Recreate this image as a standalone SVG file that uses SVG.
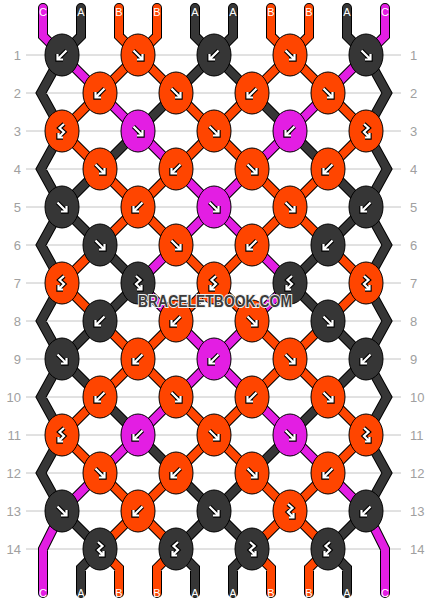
<svg xmlns="http://www.w3.org/2000/svg" xmlns:xlink="http://www.w3.org/1999/xlink" width="430" height="604" viewBox="0 0 430 604">
<style>
.grid line{stroke:#c4c4c4;stroke-width:1}
.num{font-family:"Liberation Sans",Arial,sans-serif;font-size:13px;fill:#a0a0a0}
.lab{font-family:"Liberation Sans",Arial,sans-serif;font-size:11px;fill:#fff;text-anchor:middle}
.ol{fill:none;stroke:#000;stroke-width:10;stroke-linecap:round;stroke-linejoin:miter}
.t{fill:none;stroke-width:8;stroke-linecap:round;stroke-linejoin:miter}
.tA{stroke:#363636}.tB{stroke:#ff4500}.tC{stroke:#e31ee3}
ellipse{stroke:#000;stroke-width:1}
.kA{fill:#363636}.kB{fill:#ff4500}.kC{fill:#e31ee3}
.ao{fill:none;stroke:#000;stroke-width:4.4;stroke-linejoin:miter}
.ai{fill:none;stroke:#fff;stroke-width:2.2;stroke-linejoin:miter}
.wm{font-family:"Liberation Sans",Arial,sans-serif;font-weight:bold;font-size:16px;fill:#3c3c3c;stroke:#f0f0f0;stroke-width:2;paint-order:stroke;text-anchor:middle}
</style>
<defs>
<path id="pf" d="M-4.5 -4.5L4 4M-1 4.5H4.5V-1"/>
<path id="pb" d="M4.5 -4.5L-4 4M1 4.5H-4.5V-1"/>
<path id="pfb" d="M-2 -7L2.5 -3L-2 1L3.5 6.5M-1 6.5H3.5V2"/>
<path id="pbf" d="M2 -7L-2.5 -3L2 1L-3.5 6.5M1 6.5H-3.5V2"/>
<g id="f"><use href="#pf" class="ao"/><use href="#pf" class="ai"/></g>
<g id="b"><use href="#pb" class="ao"/><use href="#pb" class="ai"/></g>
<g id="fb"><use href="#pfb" class="ao"/><use href="#pfb" class="ai"/></g>
<g id="bf"><use href="#pbf" class="ao"/><use href="#pbf" class="ai"/></g>
<path id="sA" d="M214 55L176 93M214 55L252 93M176 93L138 131M252 93L290 131M138 131L100 169M290 131L328 169M100 169L62 207M328 169L366 207M62 207L100 245M366 207L328 245M100 245L138 283M328 245L290 283M138 283L100 321M290 283L328 321M100 321L62 359M328 321L366 359M62 359L100 397M366 359L328 397M100 397L138 435M328 397L290 435M138 435L176 473M290 435L252 473M176 473L214 511M252 473L214 511M62 511L100 549M214 511L176 549M214 511L252 549M366 511L328 549M62 55L41 93L62 131M62 131L41 169L62 207M62 207L41 245L62 283M62 283L41 321L62 359M62 359L41 397L62 435M62 435L41 473L62 511M366 55L387 93L366 131M366 131L387 169L366 207M366 207L387 245L366 283M366 283L387 321L366 359M366 359L387 397L366 435M366 435L387 473L366 511M81 8L81 36L62 55M195 8L195 36L214 55M233 8L233 36L214 55M347 8L347 36L366 55M100 549L81 568L81 593M176 549L195 568L195 593M252 549L233 568L233 593M328 549L347 568L347 593"/>
<path id="sB" d="M138 55L100 93M138 55L176 93M290 55L252 93M290 55L328 93M100 93L62 131M176 93L214 131M252 93L214 131M328 93L366 131M62 131L100 169M214 131L176 169M214 131L252 169M366 131L328 169M100 169L138 207M176 169L138 207M252 169L290 207M328 169L290 207M138 207L100 245M138 207L176 245M290 207L252 245M290 207L328 245M100 245L62 283M176 245L214 283M252 245L214 283M328 245L366 283M62 283L100 321M214 283L176 321M214 283L252 321M366 283L328 321M100 321L138 359M176 321L138 359M252 321L290 359M328 321L290 359M138 359L100 397M138 359L176 397M290 359L252 397M290 359L328 397M100 397L62 435M176 397L214 435M252 397L214 435M328 397L366 435M62 435L100 473M214 435L176 473M214 435L252 473M366 435L328 473M100 473L138 511M176 473L138 511M252 473L290 511M328 473L290 511M138 511L100 549M138 511L176 549M290 511L252 549M290 511L328 549M119 8L119 36L138 55M157 8L157 36L138 55M271 8L271 36L290 55M309 8L309 36L290 55M100 549L119 568L119 593M176 549L157 568L157 593M252 549L271 568L271 593M328 549L309 568L309 593"/>
<path id="sC" d="M62 55L100 93M366 55L328 93M100 93L138 131M328 93L290 131M138 131L176 169M290 131L252 169M176 169L214 207M252 169L214 207M214 207L176 245M214 207L252 245M176 245L138 283M252 245L290 283M138 283L176 321M290 283L252 321M176 321L214 359M252 321L214 359M214 359L176 397M214 359L252 397M176 397L138 435M252 397L290 435M138 435L100 473M290 435L328 473M100 473L62 511M328 473L366 511M43 8L43 36L62 55M385 8L385 36L366 55M62 511L43 549L43 593M366 511L385 549L385 593"/>
</defs>
<rect width="430" height="604" fill="#fff"/>
<g class="grid">
<line x1="26" y1="55" x2="401" y2="55"/><line x1="26" y1="93" x2="401" y2="93"/><line x1="26" y1="131" x2="401" y2="131"/><line x1="26" y1="169" x2="401" y2="169"/><line x1="26" y1="207" x2="401" y2="207"/><line x1="26" y1="245" x2="401" y2="245"/><line x1="26" y1="283" x2="401" y2="283"/><line x1="26" y1="321" x2="401" y2="321"/><line x1="26" y1="359" x2="401" y2="359"/><line x1="26" y1="397" x2="401" y2="397"/><line x1="26" y1="435" x2="401" y2="435"/><line x1="26" y1="473" x2="401" y2="473"/><line x1="26" y1="511" x2="401" y2="511"/><line x1="26" y1="549" x2="401" y2="549"/>
</g>
<g class="num" text-anchor="end">
<text x="21" y="60">1</text><text x="21" y="98">2</text><text x="21" y="136">3</text><text x="21" y="174">4</text><text x="21" y="212">5</text><text x="21" y="250">6</text><text x="21" y="288">7</text><text x="21" y="326">8</text><text x="21" y="364">9</text><text x="21" y="402">10</text><text x="21" y="440">11</text><text x="21" y="478">12</text><text x="21" y="516">13</text><text x="21" y="554">14</text>
</g>
<g class="num" text-anchor="start">
<text x="410" y="60">1</text><text x="410" y="98">2</text><text x="410" y="136">3</text><text x="410" y="174">4</text><text x="410" y="212">5</text><text x="410" y="250">6</text><text x="410" y="288">7</text><text x="410" y="326">8</text><text x="410" y="364">9</text><text x="410" y="402">10</text><text x="410" y="440">11</text><text x="410" y="478">12</text><text x="410" y="516">13</text><text x="410" y="554">14</text>
</g>
<g id="connectors">
<use href="#sA" class="ol"/><use href="#sB" class="ol"/><use href="#sC" class="ol"/>
<use href="#sA" class="t tA"/><use href="#sB" class="t tB"/><use href="#sC" class="t tC"/>
</g>
<g class="lab">
<text x="43" y="16">C</text><text x="81" y="16">A</text><text x="119" y="16">B</text><text x="157" y="16">B</text><text x="195" y="16">A</text><text x="233" y="16">A</text><text x="271" y="16">B</text><text x="309" y="16">B</text><text x="347" y="16">A</text><text x="385" y="16">C</text>
<text x="43" y="597">C</text><text x="81" y="597">A</text><text x="119" y="597">B</text><text x="157" y="597">B</text><text x="195" y="597">A</text><text x="233" y="597">A</text><text x="271" y="597">B</text><text x="309" y="597">B</text><text x="347" y="597">A</text><text x="385" y="597">C</text>
</g>
<g id="knots">
<g id="k1-1" transform="translate(62 55)"><ellipse class="kA" rx="17" ry="21"/><use href="#b"/></g>
<g id="k1-2" transform="translate(138 55)"><ellipse class="kB" rx="17" ry="21"/><use href="#f"/></g>
<g id="k1-3" transform="translate(214 55)"><ellipse class="kA" rx="17" ry="21"/><use href="#b"/></g>
<g id="k1-4" transform="translate(290 55)"><ellipse class="kB" rx="17" ry="21"/><use href="#f"/></g>
<g id="k1-5" transform="translate(366 55)"><ellipse class="kA" rx="17" ry="21"/><use href="#f"/></g>
<g id="k2-1" transform="translate(100 93)"><ellipse class="kB" rx="17" ry="21"/><use href="#b"/></g>
<g id="k2-2" transform="translate(176 93)"><ellipse class="kB" rx="17" ry="21"/><use href="#f"/></g>
<g id="k2-3" transform="translate(252 93)"><ellipse class="kB" rx="17" ry="21"/><use href="#b"/></g>
<g id="k2-4" transform="translate(328 93)"><ellipse class="kB" rx="17" ry="21"/><use href="#f"/></g>
<g id="k3-1" transform="translate(62 131)"><ellipse class="kB" rx="17" ry="21"/><use href="#bf"/></g>
<g id="k3-2" transform="translate(138 131)"><ellipse class="kC" rx="17" ry="21"/><use href="#f"/></g>
<g id="k3-3" transform="translate(214 131)"><ellipse class="kB" rx="17" ry="21"/><use href="#f"/></g>
<g id="k3-4" transform="translate(290 131)"><ellipse class="kC" rx="17" ry="21"/><use href="#b"/></g>
<g id="k3-5" transform="translate(366 131)"><ellipse class="kB" rx="17" ry="21"/><use href="#fb"/></g>
<g id="k4-1" transform="translate(100 169)"><ellipse class="kB" rx="17" ry="21"/><use href="#f"/></g>
<g id="k4-2" transform="translate(176 169)"><ellipse class="kB" rx="17" ry="21"/><use href="#b"/></g>
<g id="k4-3" transform="translate(252 169)"><ellipse class="kB" rx="17" ry="21"/><use href="#f"/></g>
<g id="k4-4" transform="translate(328 169)"><ellipse class="kB" rx="17" ry="21"/><use href="#b"/></g>
<g id="k5-1" transform="translate(62 207)"><ellipse class="kA" rx="17" ry="21"/><use href="#f"/></g>
<g id="k5-2" transform="translate(138 207)"><ellipse class="kB" rx="17" ry="21"/><use href="#b"/></g>
<g id="k5-3" transform="translate(214 207)"><ellipse class="kC" rx="17" ry="21"/><use href="#f"/></g>
<g id="k5-4" transform="translate(290 207)"><ellipse class="kB" rx="17" ry="21"/><use href="#f"/></g>
<g id="k5-5" transform="translate(366 207)"><ellipse class="kA" rx="17" ry="21"/><use href="#b"/></g>
<g id="k6-1" transform="translate(100 245)"><ellipse class="kA" rx="17" ry="21"/><use href="#f"/></g>
<g id="k6-2" transform="translate(176 245)"><ellipse class="kB" rx="17" ry="21"/><use href="#f"/></g>
<g id="k6-3" transform="translate(252 245)"><ellipse class="kB" rx="17" ry="21"/><use href="#b"/></g>
<g id="k6-4" transform="translate(328 245)"><ellipse class="kA" rx="17" ry="21"/><use href="#b"/></g>
<g id="k7-1" transform="translate(62 283)"><ellipse class="kB" rx="17" ry="21"/><use href="#bf"/></g>
<g id="k7-2" transform="translate(138 283)"><ellipse class="kA" rx="17" ry="21"/><use href="#fb"/></g>
<g id="k7-3" transform="translate(214 283)"><ellipse class="kB" rx="17" ry="21"/><use href="#bf"/></g>
<g id="k7-4" transform="translate(290 283)"><ellipse class="kA" rx="17" ry="21"/><use href="#bf"/></g>
<g id="k7-5" transform="translate(366 283)"><ellipse class="kB" rx="17" ry="21"/><use href="#fb"/></g>
<g id="k8-1" transform="translate(100 321)"><ellipse class="kA" rx="17" ry="21"/><use href="#b"/></g>
<g id="k8-2" transform="translate(176 321)"><ellipse class="kB" rx="17" ry="21"/><use href="#b"/></g>
<g id="k8-3" transform="translate(252 321)"><ellipse class="kB" rx="17" ry="21"/><use href="#f"/></g>
<g id="k8-4" transform="translate(328 321)"><ellipse class="kA" rx="17" ry="21"/><use href="#f"/></g>
<g id="k9-1" transform="translate(62 359)"><ellipse class="kA" rx="17" ry="21"/><use href="#f"/></g>
<g id="k9-2" transform="translate(138 359)"><ellipse class="kB" rx="17" ry="21"/><use href="#b"/></g>
<g id="k9-3" transform="translate(214 359)"><ellipse class="kC" rx="17" ry="21"/><use href="#b"/></g>
<g id="k9-4" transform="translate(290 359)"><ellipse class="kB" rx="17" ry="21"/><use href="#f"/></g>
<g id="k9-5" transform="translate(366 359)"><ellipse class="kA" rx="17" ry="21"/><use href="#b"/></g>
<g id="k10-1" transform="translate(100 397)"><ellipse class="kB" rx="17" ry="21"/><use href="#b"/></g>
<g id="k10-2" transform="translate(176 397)"><ellipse class="kB" rx="17" ry="21"/><use href="#f"/></g>
<g id="k10-3" transform="translate(252 397)"><ellipse class="kB" rx="17" ry="21"/><use href="#b"/></g>
<g id="k10-4" transform="translate(328 397)"><ellipse class="kB" rx="17" ry="21"/><use href="#f"/></g>
<g id="k11-1" transform="translate(62 435)"><ellipse class="kB" rx="17" ry="21"/><use href="#bf"/></g>
<g id="k11-2" transform="translate(138 435)"><ellipse class="kC" rx="17" ry="21"/><use href="#b"/></g>
<g id="k11-3" transform="translate(214 435)"><ellipse class="kB" rx="17" ry="21"/><use href="#f"/></g>
<g id="k11-4" transform="translate(290 435)"><ellipse class="kC" rx="17" ry="21"/><use href="#f"/></g>
<g id="k11-5" transform="translate(366 435)"><ellipse class="kB" rx="17" ry="21"/><use href="#fb"/></g>
<g id="k12-1" transform="translate(100 473)"><ellipse class="kB" rx="17" ry="21"/><use href="#f"/></g>
<g id="k12-2" transform="translate(176 473)"><ellipse class="kB" rx="17" ry="21"/><use href="#b"/></g>
<g id="k12-3" transform="translate(252 473)"><ellipse class="kB" rx="17" ry="21"/><use href="#f"/></g>
<g id="k12-4" transform="translate(328 473)"><ellipse class="kB" rx="17" ry="21"/><use href="#b"/></g>
<g id="k13-1" transform="translate(62 511)"><ellipse class="kA" rx="17" ry="21"/><use href="#f"/></g>
<g id="k13-2" transform="translate(138 511)"><ellipse class="kB" rx="17" ry="21"/><use href="#b"/></g>
<g id="k13-3" transform="translate(214 511)"><ellipse class="kA" rx="17" ry="21"/><use href="#f"/></g>
<g id="k13-4" transform="translate(290 511)"><ellipse class="kB" rx="17" ry="21"/><use href="#fb"/></g>
<g id="k13-5" transform="translate(366 511)"><ellipse class="kA" rx="17" ry="21"/><use href="#b"/></g>
<g id="k14-1" transform="translate(100 549)"><ellipse class="kA" rx="17" ry="21"/><use href="#fb"/></g>
<g id="k14-2" transform="translate(176 549)"><ellipse class="kA" rx="17" ry="21"/><use href="#bf"/></g>
<g id="k14-3" transform="translate(252 549)"><ellipse class="kA" rx="17" ry="21"/><use href="#fb"/></g>
<g id="k14-4" transform="translate(328 549)"><ellipse class="kA" rx="17" ry="21"/><use href="#bf"/></g>
</g>
<text class="wm" x="215" y="307" textLength="154" lengthAdjust="spacingAndGlyphs">BRACELETBOOK.COM</text>
</svg>
